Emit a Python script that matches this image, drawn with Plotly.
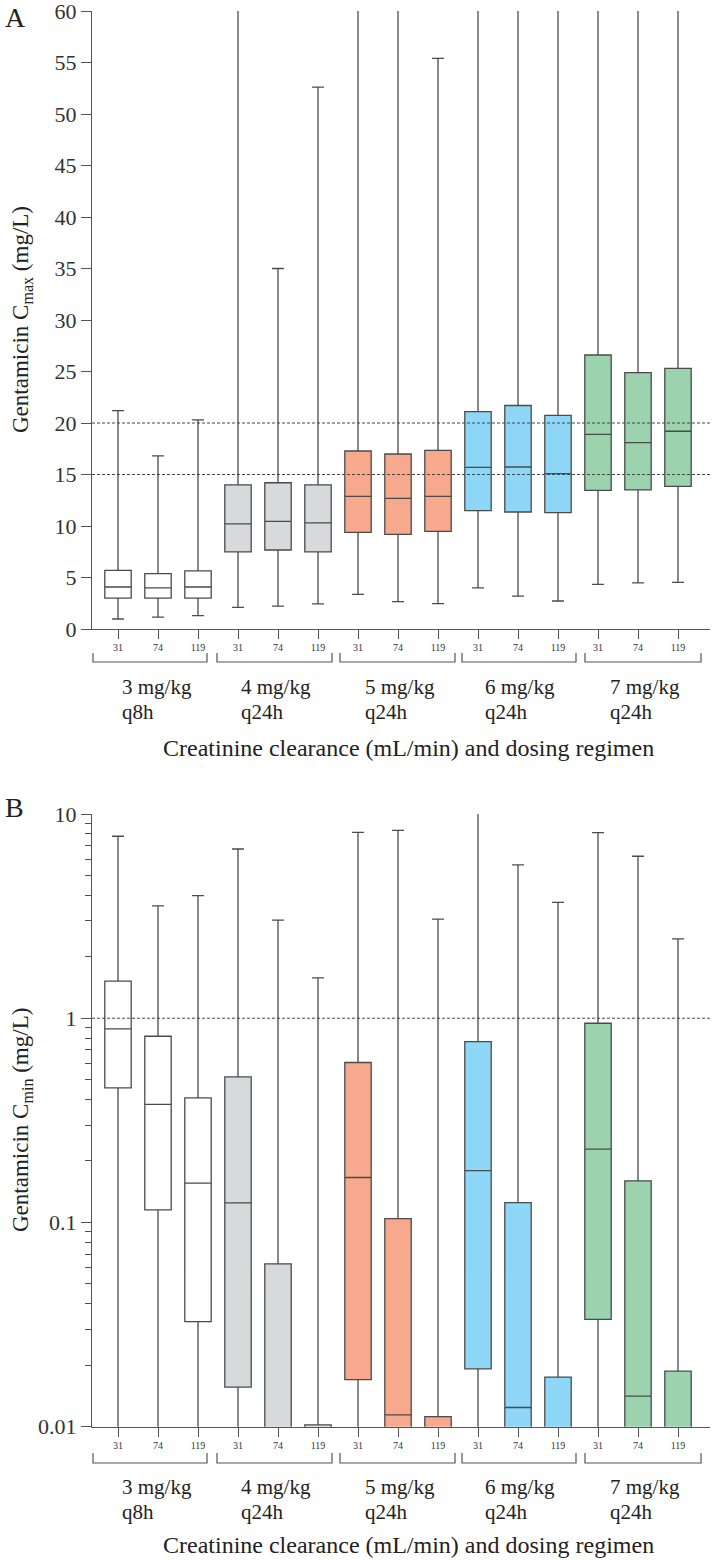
import plotly.graph_objects as go

# ---------------- data ----------------
clcr = ["31", "74", "119"]
regimen_dose = ["3 mg/kg", "4 mg/kg", "5 mg/kg", "6 mg/kg", "7 mg/kg"]
regimen_interval = ["q8h", "q24h", "q24h", "q24h", "q24h"]
group_colors = ["#ffffff", "#d8d9db", "#f7a98d", "#8fd7f6", "#9bd3ae"]

# Panel A: Cmax (mg/L)
cmax_lo = [0.97, 1.16, 1.3, 2.1, 2.23, 2.43, 3.37, 2.65, 2.46, 4.0, 3.2, 2.72, 4.34, 4.47, 4.53]
cmax_q1 = [3.0, 3.0, 3.0, 7.48, 7.67, 7.48, 9.38, 9.19, 9.48, 11.5, 11.36, 11.3, 13.46, 13.5, 13.85]
cmax_med = [4.08, 4.0, 4.08, 10.2, 10.45, 10.3, 12.88, 12.69, 12.88, 15.7, 15.73, 15.08, 18.9, 18.1, 19.2]
cmax_q3 = [5.7, 5.37, 5.65, 14.0, 14.2, 14.0, 17.28, 16.99, 17.35, 21.1, 21.7, 20.75, 26.6, 24.9, 25.3]
cmax_hi = [21.2, 16.8, 20.3, 70.0, 35.0, 52.6, 72.0, 70.0, 55.4, 75.0, 78.0, 74.0, 85.0, 80.0, 82.0]
cmax_targets = [15, 20]

# Panel B: Cmin (mg/L)
cmin_lo = [0.001] * 15
cmin_q1 = [0.456, 0.1153, 0.0327, 0.01563, 0.002, 0.002, 0.017, 0.002, 0.002, 0.0192, 0.002, 0.002, 0.0335, 0.002, 0.002]
cmin_med = [0.887, 0.379, 0.1557, 0.1247, 0.005, 0.005, 0.166, 0.01143, 0.005, 0.1795, 0.01242, 0.005, 0.2285, 0.01412, 0.005]
cmin_q3 = [1.52, 0.816, 0.407, 0.516, 0.0627, 0.0102, 0.607, 0.1045, 0.0112, 0.768, 0.1252, 0.0175, 0.945, 0.16, 0.0187]
cmin_hi = [7.78, 3.55, 3.98, 6.74, 3.02, 1.575, 8.13, 8.32, 3.06, 12.0, 5.63, 3.69, 8.1, 6.21, 2.445]
cmin_targets = [1]

# ---------------- layout helpers ----------------
W, H = 713, 1560
FONT = "Liberation Serif, Times New Roman, serif"
def px(x):
    return x / W
def py(y):
    return 1 - y / H

positions = list(range(15))
tick_text = clcr * 5

fig = go.Figure()

def add_panel(xa, ya, q1, med, q3, lo, hi):
    for g in range(5):
        sl = slice(3 * g, 3 * g + 3)
        fig.add_trace(go.Box(
            x=positions[sl], q1=q1[sl], median=med[sl], q3=q3[sl],
            lowerfence=lo[sl], upperfence=hi[sl],
            width=0.66, whiskerwidth=0.45,
            fillcolor=group_colors[g],
            line=dict(color="#4a4a4a", width=1.3),
            boxpoints=False, showlegend=False, hoverinfo="skip",
            xaxis=xa, yaxis=ya,
        ))

add_panel("x", "y", cmax_q1, cmax_med, cmax_q3, cmax_lo, cmax_hi)
add_panel("x2", "y2", cmin_q1, cmin_med, cmin_q3, cmin_lo, cmin_hi)

xdom = [px(92), px(710)]
axis_common = dict(showline=True, linecolor="#555", linewidth=1.3, showgrid=False,
                   zeroline=False, ticks="outside", tickcolor="#555", tickwidth=1.2,
                   automargin=False, ticklabeloverflow="allow")
xaxis_common = dict(axis_common, range=[-0.65, 14.8], tickmode="array",
                    tickvals=positions, ticktext=tick_text, ticklen=9,
                    tickfont=dict(family=FONT, size=10, color="#333"), domain=xdom)

fig.update_layout(
    width=W, height=H, margin=dict(l=0, r=0, t=0, b=0, pad=0, autoexpand=False),
    paper_bgcolor="white", plot_bgcolor="white", showlegend=False,
    font=dict(family=FONT, color="#222"),
    xaxis=dict(xaxis_common, anchor="y"),
    xaxis2=dict(xaxis_common, anchor="y2"),
    yaxis=dict(axis_common, domain=[py(629), py(11)], range=[0, 60], tickmode="linear",
               tick0=0, dtick=5, ticklen=10, anchor="x",
               tickfont=dict(family=FONT, size=22, color="#333")),
    yaxis2=dict(axis_common, domain=[py(1426.7), py(814)], type="log", range=[-2, 1],
                tickmode="array", tickvals=[0.01, 0.1, 1, 10], ticktext=["0.01", "0.1", "1", "10"],
                ticklen=10, anchor="x2",
                minor=dict(ticks="outside", ticklen=6, tickcolor="#555", tickwidth=1.1, dtick="D1", showgrid=False),
                tickfont=dict(family=FONT, size=22, color="#333")),
)

shapes = []
# target concentration reference lines
for t in cmax_targets:
    shapes.append(dict(type="line", xref="x domain", yref="y", x0=0, x1=1, y0=t, y1=t,
                       line=dict(color="#444", width=1, dash="3px,2px"), layer="above"))
for t in cmin_targets:
    shapes.append(dict(type="line", xref="x2 domain", yref="y2", x0=0, x1=1, y0=t, y1=t,
                       line=dict(color="#444", width=1, dash="3px,2px"), layer="above"))

# group brackets below tick labels
bracket_x = [(93, 207), (217, 332), (340, 455), (462, 576), (585, 701)]
for ytop, ybot in [(653, 662), (1453, 1463)]:
    for x0, x1 in bracket_x:
        shapes.append(dict(type="path", xref="paper", yref="paper",
                           path=f"M {px(x0)},{py(ytop)} L {px(x0)},{py(ybot)} L {px(x1)},{py(ybot)} L {px(x1)},{py(ytop)}",
                           line=dict(color="#555", width=1.2)))
fig.update_layout(shapes=shapes)

ann = []
label_x = [120, 239, 363, 483, 608]
for (y1, y2) in [(687, 712), (1486.7, 1511.7)]:
    for g in range(5):
        ann.append(dict(text=regimen_dose[g], xref="paper", yref="paper", x=px(label_x[g]), y=py(y1),
                        xanchor="left", yanchor="middle", showarrow=False,
                        font=dict(family=FONT, size=21, color="#222")))
        ann.append(dict(text=regimen_interval[g], xref="paper", yref="paper", x=px(label_x[g]), y=py(y2),
                        xanchor="left", yanchor="middle", showarrow=False,
                        font=dict(family=FONT, size=21, color="#222")))

xtitle = "Creatinine clearance (mL/min) and dosing regimen"
for yc in [748, 1545]:
    ann.append(dict(text=xtitle, xref="paper", yref="paper", x=px(408.5), y=py(yc),
                    xanchor="center", yanchor="middle", showarrow=False,
                    font=dict(family=FONT, size=24, color="#222")))

for txt, yc in [("Gentamicin C<sub>max</sub> (mg/L)", 320), ("Gentamicin C<sub>min</sub> (mg/L)", 1120)]:
    ann.append(dict(text=txt, xref="paper", yref="paper", x=px(22), y=py(yc), textangle=-90,
                    xanchor="center", yanchor="middle", showarrow=False,
                    font=dict(family=FONT, size=23, color="#222")))

for txt, yc in [("A", 18), ("B", 807)]:
    ann.append(dict(text=txt, xref="paper", yref="paper", x=px(3), y=py(yc),
                    xanchor="left", yanchor="middle", showarrow=False,
                    font=dict(family=FONT, size=28, color="#222")))

fig.update_layout(annotations=ann)
fig.write_html("out.html", config={"displayModeBar": False},
               post_script="document.body.style.margin='0';document.body.style.padding='0';document.documentElement.style.overflow='hidden';")
